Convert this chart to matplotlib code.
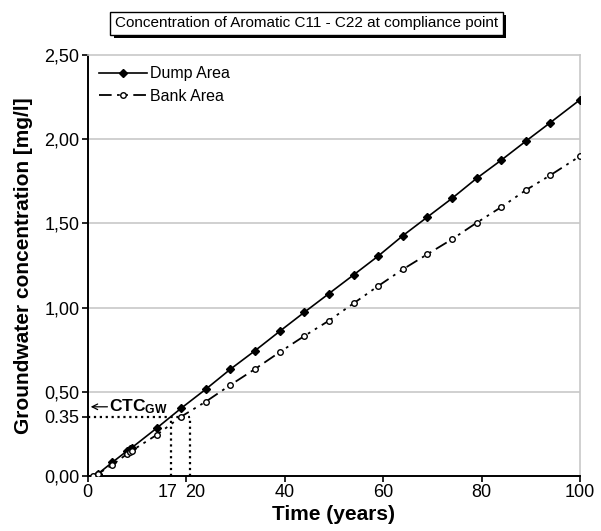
import matplotlib
matplotlib.use("Agg")
import matplotlib.pyplot as plt
import matplotlib.patheffects as pe

plt.rcParams["font.family"] = ["Liberation Sans", "DejaVu Sans"]
plt.rcParams["mathtext.fontset"] = "custom"
plt.rcParams["mathtext.bf"] = "Liberation Sans:bold"
plt.rcParams["mathtext.rm"] = "Liberation Sans"

dump_years = [2, 5, 8, 8.5, 9, 14, 19, 24, 29, 34, 39, 44, 49, 54, 59, 64, 69, 74, 79, 84, 89, 94, 100]
dump_conc = [0.01, 0.08, 0.148, 0.16, 0.168, 0.283, 0.402, 0.515, 0.634, 0.744, 0.859, 0.972,
             1.083, 1.194, 1.306, 1.427, 1.538, 1.649, 1.768, 1.876, 1.989, 2.100, 2.235]

bank_years = [1, 2, 5, 8, 8.5, 9, 14, 19, 24, 29, 34, 39, 44, 49, 54, 59, 64, 69, 74, 79, 84, 89, 94, 100]
bank_conc = [0.0, 0.01, 0.065, 0.13, 0.14, 0.15, 0.243, 0.352, 0.441, 0.540, 0.635, 0.735, 0.831,
             0.922, 1.025, 1.128, 1.227, 1.317, 1.406, 1.504, 1.597, 1.698, 1.787, 1.900]

ctc_level = 0.35
ctc_years = [17, 20.8]

y_ticks = [0, 0.35, 0.5, 1.0, 1.5, 2.0, 2.5]
y_labels = ["0,00", "0.35", "0,50", "1,00", "1,50", "2,00", "2,50"]
x_ticks = [0, 20, 40, 60, 80, 100]
x_labels = ["0", "", "40", "60", "80", "100"]
# the "17" and "20" labels sit either side of the CTC guide lines
extra_label_pos = [16.3, 21.8]
extra_labels = ["17", "20"]

fig = plt.figure(figsize=(6.01, 5.31), dpi=100)
ax = fig.add_axes([0.146, 0.104, 0.819, 0.792])

for v in [0.5, 1.0, 1.5, 2.0]:
    ax.axhline(v, color="#c8c8c8", lw=1.2, zorder=0)

ax.plot(dump_years, dump_conc, color="black", lw=1.2, marker="D", ms=3.6,
        mfc="black", mec="black", label="Dump Area", zorder=3)
ax.plot(bank_years, bank_conc, color="black", lw=1.3, ls=(0, (7, 3, 1.5, 3, 1.5, 3)),
        marker="o", ms=4, mfc="white", mec="black", mew=1.0, label="Bank Area", zorder=3)

# CTC guide lines
ax.plot([0, ctc_years[1]], [ctc_level, ctc_level], color="black", ls=":", lw=1.6, zorder=2)
for cx in ctc_years:
    ax.plot([cx, cx], [0, ctc_level], color="black", ls=":", lw=1.6, zorder=2)

ax.annotate("", xy=(0.6, 0.41), xytext=(4.0, 0.41),
            arrowprops=dict(arrowstyle="->", lw=0.9, color="black", shrinkA=0, shrinkB=0))
ax.text(4.3, 0.41, r"$\mathbf{CTC_{GW}}$", fontsize=12.5, va="center", ha="left")

ax.set_xlim(0, 100)
ax.set_ylim(0, 2.5)
ax.set_yticks(y_ticks)
ax.set_yticklabels(y_labels)
ax.set_xticks(x_ticks)
ax.set_xticklabels(x_labels)
ax.set_xticks(extra_label_pos, minor=True)
ax.set_xticklabels(extra_labels, minor=True)
ax.tick_params(which="major", direction="out", length=4, width=1.2, labelsize=13, pad=2)
ax.tick_params(which="minor", axis="x", length=0, labelsize=13, pad=6)

for side in ["left", "bottom"]:
    ax.spines[side].set_linewidth(1.4)
for side in ["top", "right"]:
    ax.spines[side].set_color("#c8c8c8")
    ax.spines[side].set_linewidth(1.2)

ax.set_xlabel("Time (years)", fontsize=15, fontweight="bold", labelpad=3)
ax.set_ylabel("Groundwater concentration [mg/l]", fontsize=15, fontweight="bold", labelpad=8)

ax.legend(loc="upper left", frameon=False, fontsize=11.5, handlelength=3.0,
          handletextpad=0.2, labelspacing=0.45, borderaxespad=0.3)

title = fig.text(0.51, 0.956, "Concentration of Aromatic C11 - C22 at compliance point",
                 ha="center", va="center", fontsize=11,
                 bbox=dict(boxstyle="square,pad=0.3", facecolor="white", edgecolor="black", lw=1.0))
title.get_bbox_patch().set_path_effects(
    [pe.withSimplePatchShadow(offset=(2.5, -2.5), shadow_rgbFace="black", alpha=1.0)])

fig.savefig("out.png", dpi=100)
